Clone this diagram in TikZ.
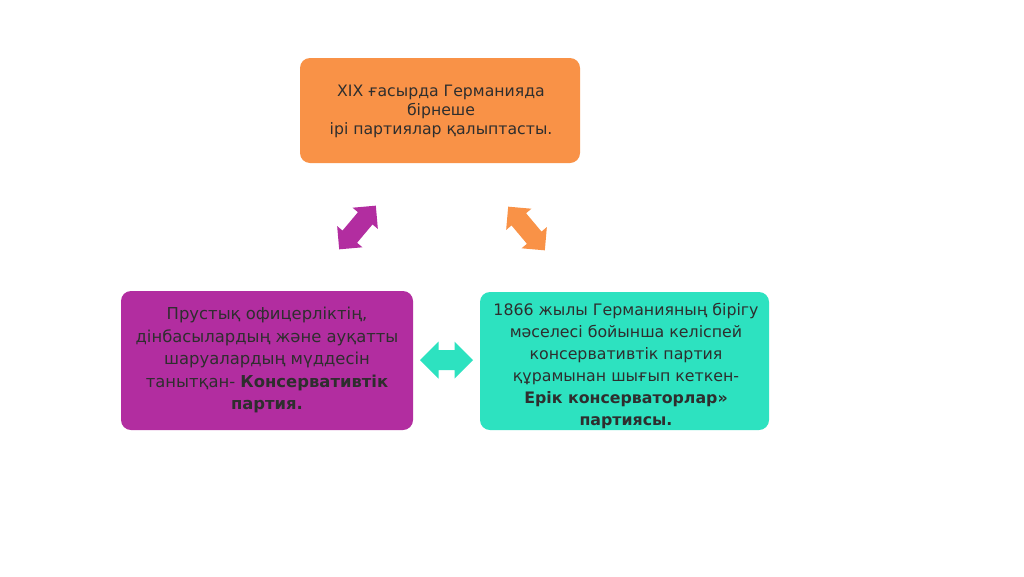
\documentclass[tikz,border=0pt]{standalone}
\usepackage{fontspec}
\setmainfont{DejaVu Sans}
\definecolor{orangebox}{HTML}{F99247}
\definecolor{purplebox}{HTML}{B22DA0}
\definecolor{tealbox}{HTML}{2DE2C0}
\definecolor{txtgray}{HTML}{2E2E2E}
\begin{document}
\begin{tikzpicture}[x=1pt,y=-1pt,
  box/.style={rounded corners=10pt, inner sep=0pt},
  txt/.style={text=txtgray, align=center, inner sep=0pt},
  bigtxt/.style={txt, font=\fontsize{16.4}{22.5}\selectfont},
  righttxt/.style={txt, font=\fontsize{15.8}{22}\selectfont},
  toptxt/.style={txt, font=\fontsize{15.7}{19}\selectfont},
  dbl/.pic={\fill[pic actions] (-26.5,0) -- (-8,-18.5) -- (-8,-10) -- (8,-10) -- (8,-18.5) -- (26.5,0) -- (8,18.5) -- (8,10) -- (-8,10) -- (-8,18.5) -- cycle;},
  dbld/.pic={\fill[pic actions] (-28.5,0) -- (-12,-16.5) -- (-12,-9.5) -- (12,-9.5) -- (12,-16.5) -- (28.5,0) -- (12,16.5) -- (12,9.5) -- (-12,9.5) -- (-12,16.5) -- cycle;}
]
\useasboundingbox[fill=white] (0,0) rectangle (1024,576);
% boxes
\node[box, fill=orangebox, minimum width=280pt, minimum height=105pt] (top) at (440,110.5) {};
\node[box, fill=purplebox, minimum width=292pt, minimum height=139pt] (left) at (267,360.5) {};
\node[box, fill=tealbox, minimum width=289pt, minimum height=138pt] (right) at (624.5,361) {};
% texts
\node[toptxt] (toptext) at (441,111) {XIX ғасырда Германияда\\бірнеше\\ірі партиялар қалыптасты.};
\node[bigtxt] (lefttext) at (267,360) {Прустық офицерліктің,\\дінбасылардың және ауқатты\\шаруалардың мүддесін\\таныт­қан- \textbf{Консервативтік}\\\textbf{партия.}};
\node[righttxt] (righttext) at (626,366) {1866 жылы Германияның бірігу\\мәселесі бойынша келіспей\\консервативтік партия\\құрамынан шығып кеткен-\\\textbf{Ерік консерваторлар»}\\\textbf{партиясы.}};
% arrows
\pic[fill=purplebox, rotate=50] (arrL) at (357.5,227.5) {dbld};
\pic[fill=orangebox, rotate=-50] (arrR) at (526.5,228.5) {dbld};
\pic[fill=tealbox] (arrB) at (446.5,360) {dbl};
\end{tikzpicture}
\end{document}
